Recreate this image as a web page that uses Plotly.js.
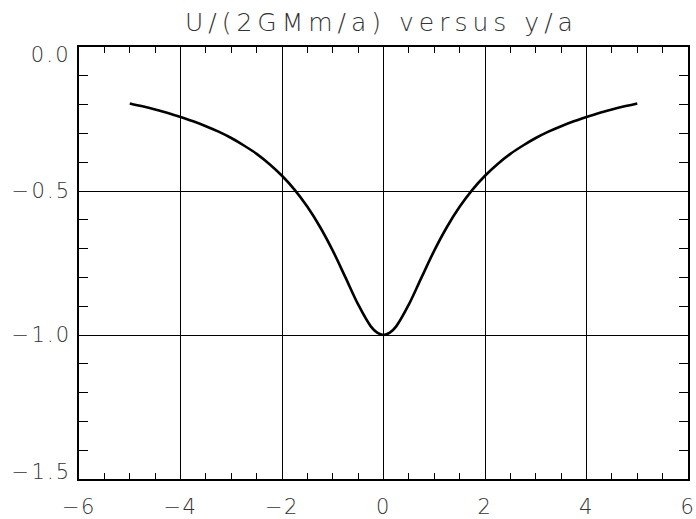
<!DOCTYPE html>
<html>
<head>
<meta charset="utf-8">
<script src="https://cdn.plot.ly/plotly-3.0.1.min.js"></script>
<style>
  html, body { margin: 0; padding: 0; background: #fff; }
  #chart { width: 696px; height: 519px; }
  #chart .gtitle { letter-spacing: 5px; }
  #chart .xtick text { letter-spacing: 1.5px; }
  #chart .annotation-text { letter-spacing: 2.2px; }
</style>
</head>
<body>
<div id="chart"></div>
<script>
// Position along the axis, y/a
const yOverA = [-5, -4.75, -4.5, -4.25, -4, -3.75, -3.5, -3.25, -3, -2.75, -2.5, -2.25, -2,
  -1.75, -1.5, -1.25, -1, -0.75, -0.5, -0.25, -0.125, 0, 0.125, 0.25, 0.5, 0.75, 1, 1.25, 1.5, 1.75,
  2, 2.25, 2.5, 2.75, 3, 3.25, 3.5, 3.75, 4, 4.25, 4.5, 4.75, 5];

// Potential energy in units of 2GMm/a
const potential = [-0.196, -0.206, -0.217, -0.229, -0.243, -0.258, -0.275, -0.294, -0.316,
  -0.342, -0.371, -0.406, -0.447, -0.496, -0.555, -0.625, -0.707, -0.800, -0.894, -0.970,
  -0.992, -1.000, -0.992, -0.970, -0.894, -0.800, -0.707, -0.625, -0.555, -0.496, -0.447,
  -0.406, -0.371, -0.342, -0.316, -0.294, -0.275, -0.258, -0.243, -0.229, -0.217, -0.206, -0.196];

const xTicks = [-6, -4, -2, 0, 2, 4, 6];
const yTicks = [0, -0.5, -1.0, -1.5];
const yTickText = ['0.0', '\u22120.5', '\u22121.0', '\u22121.5'];
// end labels are nudged inward so they stay within the frame height
const yTickNudge = [-8, 0, 0, 7];

const font = { family: 'DejaVu Sans, Liberation Sans, sans-serif', color: '#333', size: 21, weight: 200 };

const trace = {
  x: yOverA,
  y: potential,
  type: 'scatter',
  mode: 'lines',
  line: { color: '#000', width: 2.6, shape: 'spline', smoothing: 1 },
  hoverinfo: 'skip'
};

const axisCommon = {
  showline: true,
  linecolor: '#000',
  linewidth: 2,
  mirror: 'allticks',
  ticks: 'inside',
  tickcolor: '#000',
  tickwidth: 1,
  showgrid: true,
  gridcolor: '#000',
  gridwidth: 1,
  zeroline: false,
  tickfont: font
};

const yLabels = yTicks.map((v, i) => ({
  xref: 'paper', x: 0, xanchor: 'right', xshift: -10,
  yref: 'y', y: v, yanchor: 'middle', yshift: yTickNudge[i],
  text: yTickText[i], showarrow: false, font: font
}));

const layout = {
  width: 696,
  height: 519,
  margin: { l: 79, r: 8, t: 47, b: 40 },
  paper_bgcolor: '#fff',
  plot_bgcolor: '#fff',
  showlegend: false,
  title: {
    text: 'U/(2GMm/a) versus y/a',
    font: { family: font.family, color: '#333', size: 25, weight: 200 },
    x: 0.548, xanchor: 'center',
    y: 0.958, yanchor: 'middle'
  },
  annotations: yLabels,
  xaxis: Object.assign({}, axisCommon, {
    range: [-6, 6],
    tickvals: xTicks,
    ticktext: xTicks.map(v => v < 0 ? '\u2212' + Math.abs(v) : String(v)),
    ticklen: 6,
    ticklabelstandoff: 8,
    minor: { dtick: 0.5, tick0: 0, ticks: 'inside', ticklen: 6, tickcolor: '#000', tickwidth: 1, showgrid: false }
  }),
  yaxis: Object.assign({}, axisCommon, {
    range: [-1.5, 0],
    tickvals: yTicks,
    showticklabels: false,
    ticklen: 9,
    minor: { dtick: 0.1, tick0: 0, ticks: 'inside', ticklen: 9, tickcolor: '#000', tickwidth: 1, showgrid: false }
  })
};

Plotly.newPlot('chart', [trace], layout, { displayModeBar: false, staticPlot: true });
</script>
</body>
</html>
